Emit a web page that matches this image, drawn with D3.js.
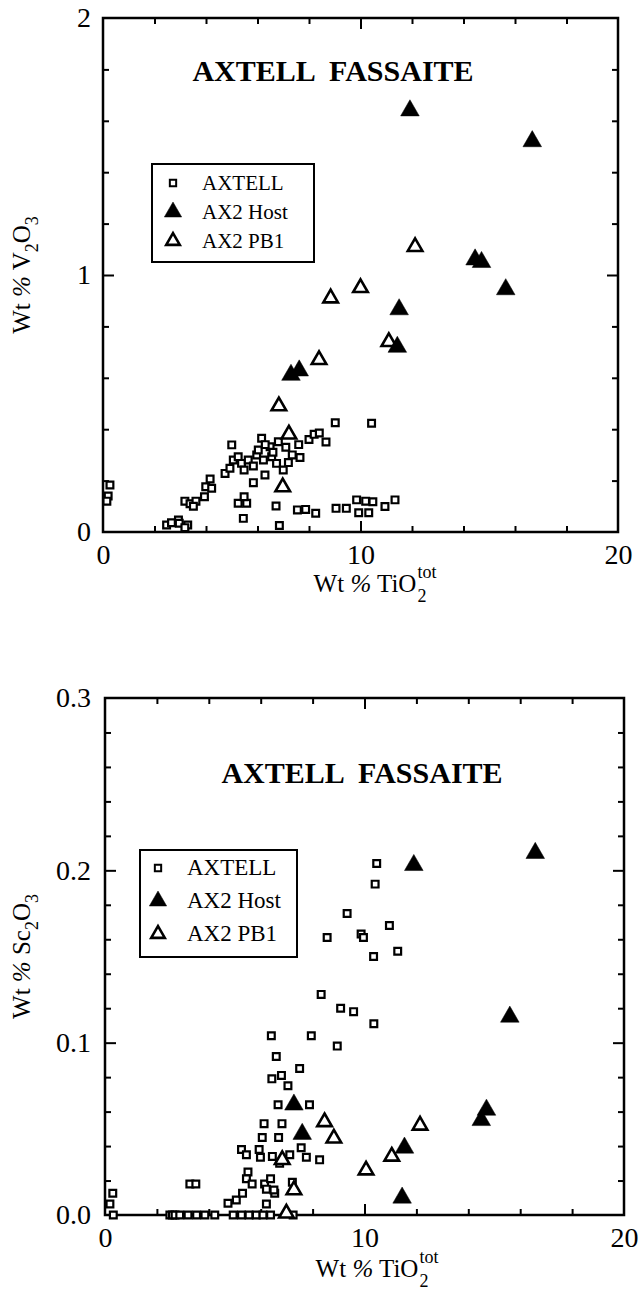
<!DOCTYPE html>
<html>
<head>
<meta charset="utf-8">
<script src="https://cdn.jsdelivr.net/npm/d3@7"></script>
<style>
  body { margin: 0; background: #fff; }
  svg { display: block; font-family: "Liberation Serif", "Times New Roman", serif; }
</style>
</head>
<body>
<svg id="canvas" width="639" height="1308"></svg>
<script>
// Series names
let seriesNames = ['AXTELL', 'AX2 Host', 'AX2 PB1'];
let chartTitle = 'AXTELL  FASSAITE';

// Top panel: Wt % TiO2 (tot) vs Wt % V2O3
let topAxtell = [
    [0.27, 0.183], [0.2, 0.14], [0.15, 0.12],
    [2.47, 0.027], [2.66, 0.036], [2.93, 0.047], [2.96, 0.034], [3.29, 0.027], [3.18, 0.017],
    [3.18, 0.12], [3.38, 0.11], [3.61, 0.12], [3.51, 0.10], [3.94, 0.137], [3.99, 0.176], [4.16, 0.206], [4.22, 0.17],
    [5.0, 0.339], [4.74, 0.228], [4.93, 0.248], [5.06, 0.28], [5.25, 0.293], [5.38, 0.267], [5.48, 0.241],
    [5.64, 0.28], [5.84, 0.257], [5.84, 0.192], [5.97, 0.30], [6.03, 0.319], [6.16, 0.365], [6.23, 0.28],
    [6.29, 0.222], [6.49, 0.332], [6.55, 0.293], [6.74, 0.267], [6.81, 0.351], [7.0, 0.241],
    [5.25, 0.112], [5.58, 0.112], [5.48, 0.137], [5.45, 0.053], [6.72, 0.101], [6.85, 0.025],
    [7.1, 0.33], [7.35, 0.3], [7.6, 0.34], [7.65, 0.29], [8.0, 0.36], [8.2, 0.38], [8.4, 0.385],
    [8.66, 0.35], [9.02, 0.425], [10.43, 0.423], [6.3, 0.34], [6.6, 0.31], [7.2, 0.27],
    [7.55, 0.086], [7.87, 0.088], [8.26, 0.073], [9.05, 0.092], [9.45, 0.092], [9.85, 0.125],
    [9.93, 0.075], [10.32, 0.075], [10.48, 0.118], [10.95, 0.099], [11.34, 0.125], [10.2, 0.12]
];
let topHost = [
    [11.92, 1.64], [16.67, 1.52], [14.45, 1.06], [14.7, 1.05], [15.64, 0.944],
    [11.5, 0.866], [11.43, 0.72], [7.3, 0.611], [7.62, 0.628]
];
let topPB1 = [
    [12.12, 1.11], [10.0, 0.95], [8.84, 0.91], [11.1, 0.74], [8.39, 0.67],
    [6.83, 0.49], [7.22, 0.38], [6.98, 0.175]
];

// Bottom panel: Wt % TiO2 (tot) vs Wt % Sc2O3
let bottomAxtell = [
    [10.47, 0.204], [10.41, 0.192], [9.33, 0.175], [10.96, 0.168], [8.56, 0.161], [9.87, 0.163],
    [9.96, 0.161], [10.35, 0.150], [11.28, 0.153], [8.33, 0.128], [9.08, 0.120], [9.58, 0.118],
    [10.36, 0.111], [6.41, 0.104], [7.95, 0.104], [8.95, 0.098], [6.6, 0.092], [7.5, 0.085],
    [6.43, 0.079], [6.8, 0.081], [7.05, 0.075], [6.67, 0.064], [7.88, 0.064], [6.13, 0.053],
    [6.82, 0.053], [6.06, 0.045], [6.69, 0.045], [7.56, 0.039], [7.76, 0.0335], [8.27, 0.032],
    [5.26, 0.038], [5.45, 0.035], [5.94, 0.038], [5.99, 0.0335], [6.45, 0.034], [6.73, 0.030],
    [7.12, 0.035], [5.51, 0.025], [5.45, 0.021], [5.67, 0.018], [6.15, 0.018], [6.38, 0.021],
    [6.22, 0.015], [6.54, 0.0126], [7.22, 0.019], [6.51, 0.0145], [4.74, 0.0068], [5.06, 0.0087],
    [5.3, 0.0126], [6.22, 0.0064], [3.27, 0.018], [3.5, 0.018], [0.3, 0.0126], [0.19, 0.0064],
    [0.32, 0], [2.5, 0], [2.6, 0], [2.7, 0], [2.88, 0], [3.2, 0], [3.53, 0], [3.85, 0], [4.23, 0],
    [4.94, 0], [5.26, 0], [5.55, 0], [5.83, 0], [6.09, 0], [6.38, 0], [7.25, 0]
];
let bottomHost = [
    [11.9, 0.203], [16.58, 0.21], [15.6, 0.115], [14.5, 0.055], [14.7, 0.061],
    [11.54, 0.039], [11.45, 0.01], [7.28, 0.064], [7.6, 0.047]
];
let bottomPB1 = [
    [12.14, 0.052], [11.05, 0.034], [10.06, 0.026], [8.46, 0.054], [8.82, 0.0445],
    [6.83, 0.032], [7.28, 0.0145], [6.99, 0.001]
];

// Ticks
let xMinorTicks = [2, 4, 6, 8, 12, 14, 16, 18];
let xMajorTicks = [0, 10, 20];
let topYMinorTicks = [0.2, 0.4, 0.6, 0.8, 1.2, 1.4, 1.6, 1.8];
let topYMajorTicks = [0, 1, 2];
let bottomYMinorTicks = [0.02, 0.04, 0.06, 0.08, 0.12, 0.14, 0.16, 0.18, 0.22, 0.24, 0.26, 0.28];
let bottomYMajorTicks = [0, 0.1, 0.2, 0.3];

let canvas = d3.select('#canvas');

// Marker shapes
let squarePath = d3.symbol(d3.symbolSquare, 46)();
let filledTriPath = d3.symbol(d3.symbolTriangle, 150)();
let openTriPath = d3.symbol(d3.symbolTriangle, 92)();

let drawMarks = (g, pts, x, y, kind) => {
    let path = kind === 'square' ? squarePath : kind === 'host' ? filledTriPath : openTriPath;
    g.selectAll(null)
        .data(pts)
        .enter()
        .append('path')
        .attr('d', path)
        .attr('transform', (d) => `translate(${x(d[0])},${y(d[1])})`)
        .attr('fill', kind === 'host' ? '#000' : '#fff')
        .attr('stroke', '#000')
        .attr('stroke-width', kind === 'square' ? 2.2 : kind === 'host' ? 0.5 : 2.6)
        .attr('stroke-linejoin', 'miter');
};

// Draw one panel
let drawPanel = (p) => {
    let x = d3.scaleLinear().domain([0, 20]).range([p.left, p.right]);
    let y = d3.scaleLinear().domain([0, p.yMax]).range([p.bottom, p.top]);
    let g = canvas.append('g');

    // inward ticks on all four sides
    let addTicks = (axis, tr, vals, len) => {
        let a = g.append('g').attr('transform', tr)
            .call(axis.tickValues(vals).tickSize(-len).tickFormat(''));
        a.select('.domain').remove();
        a.selectAll('line').attr('stroke', '#000').attr('stroke-width', 2);
    };
    addTicks(d3.axisBottom(x), `translate(0,${p.bottom})`, xMinorTicks, 6);
    addTicks(d3.axisBottom(x), `translate(0,${p.bottom})`, [10], 11);
    addTicks(d3.axisTop(x), `translate(0,${p.top})`, xMinorTicks, 6);
    addTicks(d3.axisTop(x), `translate(0,${p.top})`, [10], 11);
    addTicks(d3.axisLeft(y), `translate(${p.left},0)`, p.yMinor, 6);
    addTicks(d3.axisLeft(y), `translate(${p.left},0)`, p.yMajor.slice(1, -1), 11);
    addTicks(d3.axisRight(y), `translate(${p.right},0)`, p.yMinor, 6);
    addTicks(d3.axisRight(y), `translate(${p.right},0)`, p.yMajor.slice(1, -1), 11);

    // tick labels
    let xl = g.append('g').attr('transform', `translate(0,${p.bottom})`)
        .call(d3.axisBottom(x).tickValues(xMajorTicks).tickSize(0).tickPadding(p.xPad).tickFormat(d3.format('d')));
    xl.select('.domain').remove();
    xl.attr('font-family', null).attr('font-size', 28);
    xl.selectAll('text').attr('fill', '#000');

    let yl = g.append('g').attr('transform', `translate(${p.left},0)`)
        .call(d3.axisLeft(y).tickValues(p.yMajor).tickSize(0).tickPadding(p.yPad).tickFormat(p.yFormat));
    yl.select('.domain').remove();
    yl.attr('font-family', null).attr('font-size', 28);
    yl.selectAll('text').attr('fill', '#000');

    // frame
    g.append('rect')
        .attr('x', p.left).attr('y', p.top)
        .attr('width', p.right - p.left).attr('height', p.bottom - p.top)
        .attr('fill', 'none').attr('stroke', '#000').attr('stroke-width', 2.5);

    // title
    g.append('text')
        .attr('x', p.titleX).attr('y', p.titleY)
        .attr('text-anchor', 'middle')
        .attr('font-size', 30).attr('font-weight', 'bold')
        .style('white-space', 'pre')
        .text(chartTitle);

    // points
    drawMarks(g, p.axtell, x, y, 'square');
    drawMarks(g, p.pb1, x, y, 'pb1');
    drawMarks(g, p.host, x, y, 'host');

    // legend
    let lg = g.append('g');
    lg.append('rect')
        .attr('x', p.leg.x).attr('y', p.leg.y)
        .attr('width', p.leg.w).attr('height', p.leg.h)
        .attr('fill', '#fff').attr('stroke', '#000').attr('stroke-width', 2);
    let kinds = ['square', 'host', 'pb1'];
    seriesNames.forEach((name, i) => {
        let cy = p.leg.y + p.leg.first + i * p.leg.step;
        let path = kinds[i] === 'square' ? d3.symbol(d3.symbolSquare, 40)()
            : kinds[i] === 'host' ? d3.symbol(d3.symbolTriangle, 130)() : d3.symbol(d3.symbolTriangle, 80)();
        lg.append('path')
            .attr('d', path)
            .attr('transform', `translate(${p.leg.x + p.leg.sym},${cy})`)
            .attr('fill', kinds[i] === 'host' ? '#000' : '#fff')
            .attr('stroke', '#000')
            .attr('stroke-width', kinds[i] === 'square' ? 2 : kinds[i] === 'host' ? 0.5 : 2.6);
        lg.append('text')
            .attr('x', p.leg.x + p.leg.text).attr('y', cy + 7)
            .attr('font-size', p.leg.font)
            .text(name);
    });

    // x axis title: Wt % TiO2 (tot)
    let xt = g.append('text')
        .attr('x', p.xTitleX).attr('y', p.xTitleY)
        .attr('text-anchor', 'start')
        .attr('font-size', 25);
    xt.append('tspan').text('Wt ');
    xt.append('tspan').attr('font-style', 'italic').text('%');
    xt.append('tspan').text(' TiO');
    let w = xt.node().getComputedTextLength();
    xt.attr('x', p.xTitleX - (w + 14) / 2);
    let sx = p.xTitleX - (w + 14) / 2 + w + 1;
    g.append('text').attr('x', sx).attr('y', p.xTitleY + 10).attr('font-size', 18).text('2');
    g.append('text').attr('x', sx).attr('y', p.xTitleY - 14).attr('font-size', 18).text('tot');

    // y axis title
    let yt = g.append('text')
        .attr('transform', `translate(${p.yTitleX},${(p.top + p.bottom) / 2}) rotate(-90)`)
        .attr('text-anchor', 'middle')
        .attr('font-size', 25);
    yt.append('tspan').text('Wt ');
    yt.append('tspan').attr('font-style', 'italic').text('%');
    yt.append('tspan').text(' ' + p.yEl);
    yt.append('tspan').attr('font-size', 18).attr('dy', 8).text('2');
    yt.append('tspan').attr('dy', -8).text('O');
    yt.append('tspan').attr('font-size', 18).attr('dy', 8).text('3');
};

drawPanel({
    left: 103, right: 618, top: 18, bottom: 532, yMax: 2,
    yMinor: topYMinorTicks, yMajor: topYMajorTicks, yFormat: d3.format('d'),
    xPad: 12, yPad: 12,
    titleX: 333, titleY: 81,
    axtell: topAxtell, host: topHost, pb1: topPB1,
    leg: { x: 152, y: 164, w: 162, h: 98, first: 19, step: 29, sym: 21, text: 50, font: 21 },
    xTitleX: 372, xTitleY: 592,
    yTitleX: 30, yEl: 'V'
});

drawPanel({
    left: 105, right: 624, top: 698, bottom: 1215, yMax: 0.3,
    yMinor: bottomYMinorTicks, yMajor: bottomYMajorTicks, yFormat: d3.format('.1f'),
    xPad: 12, yPad: 14,
    titleX: 362, titleY: 783,
    axtell: bottomAxtell, host: bottomHost, pb1: bottomPB1,
    leg: { x: 140, y: 850, w: 157, h: 107, first: 18, step: 33, sym: 18, text: 47, font: 23 },
    xTitleX: 374, xTitleY: 1277,
    yTitleX: 30, yEl: 'Sc'
});
</script>
</body>
</html>
